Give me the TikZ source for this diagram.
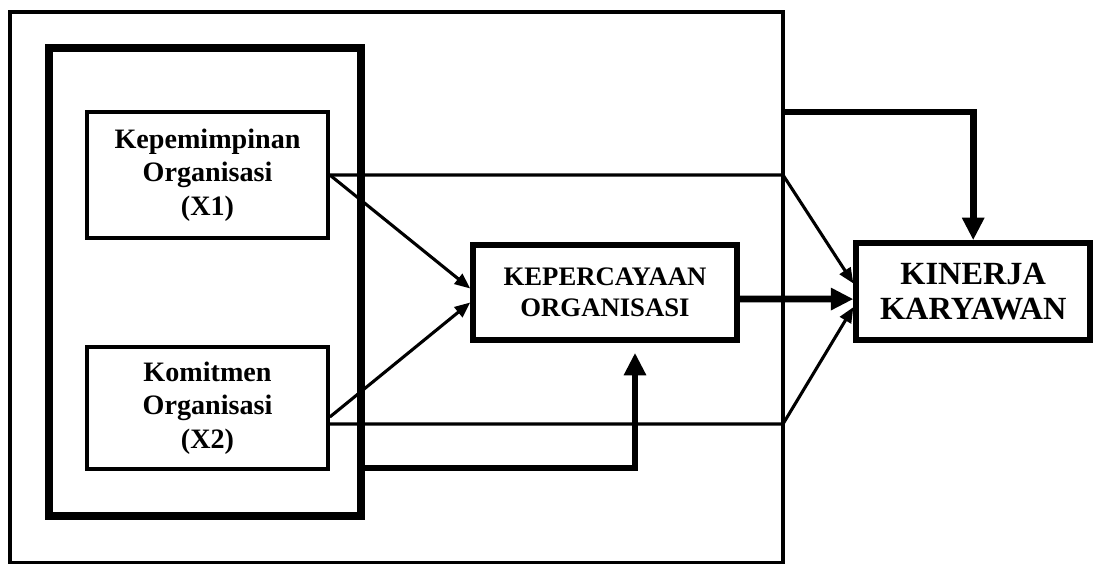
\documentclass[tikz,border=0pt]{standalone}
\usepackage{fontspec}
\setmainfont{Liberation Serif}
\usetikzlibrary{arrows.meta}

\begin{document}
\begin{tikzpicture}[
	varbox/.style={draw,line width=2.6pt,align=center,inner sep=0pt,font=\bfseries\fontsize{20}{24}\selectfont},
	thinarrow/.style={line width=2.2pt,-{Triangle[length=11pt,width=9pt]}},
	thickarrow/.style={line width=4.8pt,-{Triangle[length=16pt,width=15pt]}}]
	\useasboundingbox (0,0) rectangle (27.375,14.125);

	\draw [line width=2.6pt] (0.25,0.06) rectangle (19.575,13.825);
	\draw [line width=6pt] (1.225,1.225) rectangle (9.025,12.925);

	\node [varbox,minimum width=6.025cm,minimum height=3.15cm] (x1) at (5.1875,9.75) {Kepemimpinan\\Organisasi\\(X1)};
	\node [varbox,minimum width=6.025cm,minimum height=3.05cm] (x2) at (5.1875,3.925) {Komitmen\\Organisasi\\(X2)};
	\node [varbox,line width=4pt,minimum width=6.6cm,minimum height=2.375cm,font=\bfseries\fontsize{19}{22}\selectfont] (kep) at (15.125,6.8125) {KEPERCAYAAN\\ORGANISASI};
	\node [varbox,line width=4pt,minimum width=5.85cm,minimum height=2.425cm,font=\bfseries\fontsize{23}{25}\selectfont] (kin) at (24.33,6.8375) {KINERJA\\KARYAWAN};

	\coordinate (c1) at (19.575,9.75);
	\coordinate (c2) at (19.575,3.525);
	\coordinate (c4) at (9.025,2.425);
	\coordinate (c5) at (19.575,11.325);

	\draw [thinarrow] (x1.east) -- ([yshift=1mm]kep.west);
	\draw [thinarrow] ([yshift=-2.25mm]x2.east) -- ([yshift=-2.5mm]kep.west);
	\draw [thinarrow] (x1.east) -- (c1) -- ([yshift=2mm]kin.west);
	\draw [thinarrow] ([yshift=-4mm]x2.east) -- (c2) -- ([yshift=-3.9mm]kin.west);

	\draw [thickarrow] ([yshift=-1.6mm]kep.east) -- ([yshift=-1.9mm]kin.west);
	\draw [thickarrow,shorten >=2.5mm] (c4) -| ([xshift=7.5mm]kep.south);
	\draw [thickarrow] (c5) -| (kin.north);
\end{tikzpicture}
\end{document}
